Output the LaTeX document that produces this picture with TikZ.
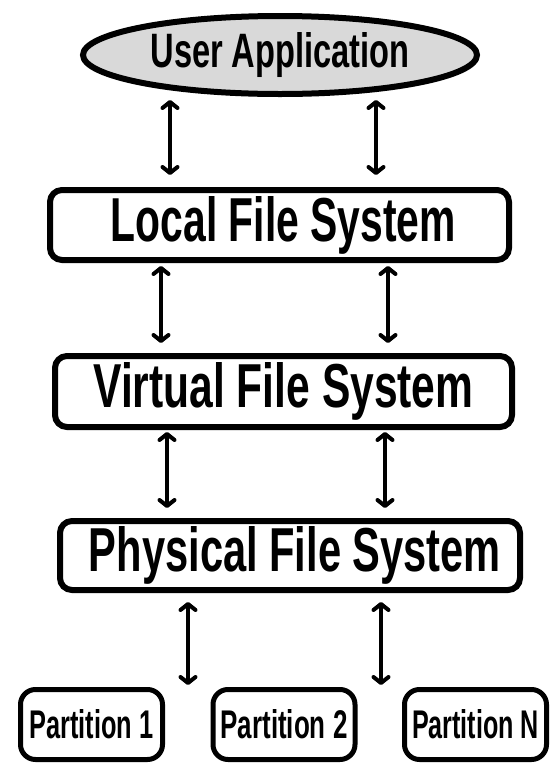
\documentclass[tikz,border=0pt]{standalone}
\usepackage{fontspec}
\setmainfont{Liberation Sans}
\usetikzlibrary{arrows.meta,shapes.geometric}
\definecolor{uagray}{HTML}{D9D9D9}
\tikzset{
  layer/.style={draw=black, line width=6pt, rounded corners=12pt, inner sep=0pt, fill=white},
  part/.style={draw=black, line width=5pt, rounded corners=15pt, inner sep=0pt, fill=white,
               minimum width=142pt, minimum height=70pt},
  arr/.style={line width=4pt, {Straight Barb[length=6pt,width=15pt,round]}-{Straight Barb[length=6pt,width=15pt,round]}},
}
\newcommand{\lbl}[3]{\resizebox{#1pt}{#2pt}{\bfseries #3}}
\begin{document}
\begin{tikzpicture}[x=1pt,y=-1pt]
\useasboundingbox (0,0) rectangle (559,772);
% top ellipse
\node[draw=black, line width=6pt, ellipse, fill=uagray, inner sep=0pt,
      minimum width=394pt, minimum height=78pt] (ua) at (280,55)
      {\lbl{259}{35}{User Application}};
% layers
\node[layer, minimum width=459pt, minimum height=70pt] (lfs) at (279.5,225)
      {\hspace*{8pt}\lbl{345}{45}{Local File System}};
\node[layer, minimum width=457pt, minimum height=71pt] (vfs) at (283.5,391.5)
      {\lbl{380}{45}{Virtual File System}};
\node[layer, minimum width=460pt, minimum height=69pt] (pfs) at (290,555.5)
      {\hspace*{10pt}\lbl{412}{45}{Physical File System}};
% partitions
\node[part] (p1) at (91.5,724.5) {\lbl{124}{29}{Partition 1}};
\node[part] (p2) at (284,724.5) {\lbl{127}{29}{Partition 2}};
\node[part] (pn) at (475.5,724.5) {\lbl{127}{29}{Partition N}};
% arrow columns
\coordinate (c1) at (170,0);
\coordinate (c2) at (376,0);
\coordinate (c3) at (161,0);
\coordinate (c4) at (388,0);
\coordinate (c5) at (167,0);
\coordinate (c6) at (385,0);
\coordinate (c7) at (188,0);
\coordinate (c8) at (381,0);
\draw[arr] ([yshift=-3pt]ua.south -| c1) -- ([yshift=12pt]lfs.north -| c1);
\draw[arr] ([yshift=-3pt]ua.south -| c2) -- ([yshift=12pt]lfs.north -| c2);
\draw[arr] ([yshift=-3pt]lfs.south -| c3) -- ([yshift=10pt]vfs.north -| c3);
\draw[arr] ([yshift=-3pt]lfs.south -| c4) -- ([yshift=10pt]vfs.north -| c4);
\draw[arr] ([yshift=-2pt]vfs.south -| c5) -- ([yshift=10pt]pfs.north -| c5);
\draw[arr] ([yshift=-2pt]vfs.south -| c6) -- ([yshift=10pt]pfs.north -| c6);
\draw[arr] ([yshift=-9pt]pfs.south -| c7) -- ([yshift=2pt]p1.north -| c7);
\draw[arr] ([yshift=-9pt]pfs.south -| c8) -- ([yshift=2pt]p2.north -| c8);
\end{tikzpicture}
\end{document}
